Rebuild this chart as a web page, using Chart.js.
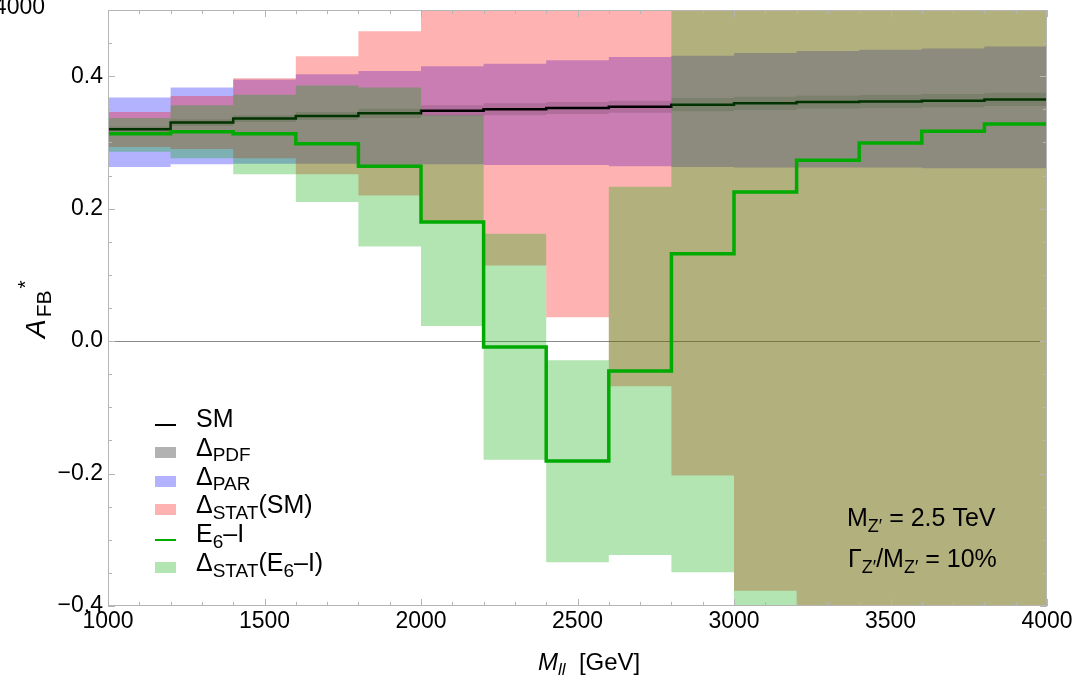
<!DOCTYPE html>
<html>
<head>
<meta charset="utf-8">
<script src="https://cdn.jsdelivr.net/npm/chart.js@4.4.1/dist/chart.umd.min.js"></script>
<style>
    html, body { margin: 0; padding: 0; background: #fff; }
</style>
</head>
<body>
<canvas id="chart" width="1077" height="678"></canvas>
<script>
// dilepton mass bins, GeV
let binEdges = [1000, 1200, 1400, 1600, 1800, 2000, 2200, 2400, 2600, 2800, 3000, 3200, 3400, 3600, 3800, 4000];

// A_FB* per bin
let smAfb = [0.320, 0.330, 0.336, 0.340, 0.344, 0.348, 0.350, 0.352, 0.354, 0.357, 0.359, 0.361, 0.362, 0.363, 0.365];
let e6Afb = [0.313, 0.316, 0.313, 0.298, 0.264, 0.180, -0.009, -0.181, -0.045, 0.132, 0.225, 0.273, 0.299, 0.317, 0.328];

// uncertainty bands (lower / upper edge per bin)
let pdfLo = [0.316, 0.325, 0.331, 0.334, 0.337, 0.340, 0.341, 0.343, 0.345, 0.347, 0.349, 0.351, 0.352, 0.353, 0.355];
let pdfHi = [0.324, 0.335, 0.341, 0.346, 0.351, 0.356, 0.359, 0.361, 0.363, 0.367, 0.369, 0.371, 0.372, 0.373, 0.375];
let parLo = [0.263, 0.267, 0.268, 0.268, 0.263, 0.267, 0.266, 0.266, 0.264, 0.263, 0.262, 0.262, 0.262, 0.261, 0.261];
let parHi = [0.368, 0.383, 0.395, 0.403, 0.408, 0.415, 0.419, 0.424, 0.429, 0.431, 0.435, 0.438, 0.440, 0.442, 0.445];
let statSmLo = [0.293, 0.290, 0.276, 0.252, 0.220, 0.180, 0.114, 0.036, -0.068, -0.203, -0.377, -0.52, -0.66, -0.82, -0.98];
let statSmHi = [0.346, 0.370, 0.397, 0.430, 0.468, 0.516, 0.586, 0.668, 0.776, 0.917, 1.095, 1.24, 1.38, 1.54, 1.71];
let statE6Lo = [0.286, 0.276, 0.252, 0.210, 0.143, 0.023, -0.179, -0.334, -0.323, -0.349, -0.42, -0.55, -0.70, -0.85, -1.0];
let statE6Hi = [0.337, 0.356, 0.372, 0.386, 0.383, 0.341, 0.162, -0.029, 0.233, 0.613, 0.87, 1.1, 1.3, 1.5, 1.65];

let xTicks = [1000, 1500, 2000, 2500, 3000, 3500, 4000];
let yTicks = [-0.4, -0.2, 0.0, 0.2, 0.4];

const FONT = "'Liberation Sans', Arial, Helvetica, sans-serif";
const blue = "rgba(0, 0, 255, 0.3)";
const pink = "rgba(255, 0, 0, 0.3)";
const green = "rgba(0, 170, 0, 0.3)";
const grey = "rgba(0, 0, 0, 0.12)";

// histogram-style points: one per left bin edge plus the closing edge
function stepPoints(vals) {
    let pts = vals.map((v, i) => ({ x: binEdges[i], y: v }));
    pts.push({ x: binEdges[binEdges.length - 1], y: vals[vals.length - 1] });
    return pts;
}

function stepSet(label, vals, color, width, order) {
    return {
        type: "line",
        label: label,
        data: stepPoints(vals),
        borderColor: color,
        borderWidth: width,
        stepped: true,
        pointRadius: 0,
        fill: false,
        order: order
    };
}

// a band is two invisible stepped edges, the upper one filled down to the lower
function bandSets(label, lo, hi, color, order) {
    return [
        {
            type: "line",
            label: label + " lo",
            data: stepPoints(lo),
            borderWidth: 0,
            borderColor: "rgba(0,0,0,0)",
            stepped: true,
            pointRadius: 0,
            fill: false,
            order: order
        },
        {
            type: "line",
            label: label,
            data: stepPoints(hi),
            borderWidth: 0,
            borderColor: "rgba(0,0,0,0)",
            backgroundColor: color,
            stepped: true,
            pointRadius: 0,
            fill: "-1",
            order: order
        }
    ];
}

// text with sub/superscripts: parts are {t, sub, sup, it}
function drawRich(ctx, parts, x, y, size, ratio) {
    ratio = ratio || 0.7;
    for (const p of parts) {
        let s = (p.sub || p.sup) ? Math.round(size * ratio) : size;
        let dy = p.sub ? size * 0.22 : (p.sup ? -size * 0.45 : 0);
        ctx.font = (p.it ? "italic " : "") + s + "px " + FONT;
        ctx.fillText(p.t, x, y + dy);
        x += ctx.measureText(p.t).width + (p.gap || 0);
    }
    return x;
}

const zeroLine = {
    id: "zeroLine",
    beforeDatasetsDraw(chart) {
        const { ctx, chartArea: a, scales: { y } } = chart;
        let py = Math.round(y.getPixelForValue(0)) + 0.5;
        ctx.save();
        ctx.strokeStyle = "#8a8a8a";
        ctx.lineWidth = 1.2;
        ctx.beginPath();
        ctx.moveTo(a.left, py);
        ctx.lineTo(a.right, py);
        ctx.stroke();
        ctx.restore();
    }
};

const frame = {
    id: "frame",
    afterDatasetsDraw(chart) {
        const { ctx, chartArea: a, scales: { x, y } } = chart;
        ctx.save();
        ctx.strokeStyle = "#b5b5b5";
        ctx.lineWidth = 1;
        ctx.strokeRect(a.left + 0.5, a.top + 0.5, a.right - a.left - 1, a.bottom - a.top - 1);
        ctx.beginPath();
        for (let v = 1000; v <= 4000; v += 100) {
            let len = v % 500 === 0 ? 7 : 4;
            let px = Math.round(x.getPixelForValue(v)) + 0.5;
            ctx.moveTo(px, a.bottom);
            ctx.lineTo(px, a.bottom - len);
            ctx.moveTo(px, a.top);
            ctx.lineTo(px, a.top + len);
        }
        for (let k = -8; k <= 10; k++) {
            let v = k * 0.05;
            let len = k % 4 === 0 ? 7 : 4;
            let py = Math.round(y.getPixelForValue(v)) + 0.5;
            ctx.moveTo(a.left, py);
            ctx.lineTo(a.left + len, py);
            ctx.moveTo(a.right, py);
            ctx.lineTo(a.right - len, py);
        }
        ctx.stroke();
        ctx.restore();
    }
};

const labels = {
    id: "labels",
    afterDraw(chart) {
        const { ctx } = chart;
        ctx.save();
        ctx.fillStyle = "#000";
        ctx.textBaseline = "alphabetic";
        ctx.textAlign = "left";

        // legend
        let rows = [
            { line: "#000000", parts: [{ t: "SM" }] },
            { box: "rgba(0, 0, 0, 0.3)", parts: [{ t: "Δ" }, { t: "PDF", sub: true }] },
            { box: blue, parts: [{ t: "Δ" }, { t: "PAR", sub: true }] },
            { box: pink, parts: [{ t: "Δ" }, { t: "STAT", sub: true }, { t: "(SM)" }] },
            { line: "#00aa00", parts: [{ t: "E" }, { t: "6", sub: true }, { t: "–I" }] },
            { box: green, parts: [{ t: "Δ" }, { t: "STAT", sub: true }, { t: "(E" }, { t: "6", sub: true }, { t: "–I)" }] }
        ];
        let base = 427;
        rows.forEach((r, i) => {
            let by = base + i * 28.8;
            if (r.line) {
                ctx.fillStyle = r.line;
                ctx.fillRect(155, Math.round(by - 3), 21, 2);
            } else {
                ctx.fillStyle = r.box;
                ctx.fillRect(155, Math.round(by - 9), 21, 11);
            }
            ctx.fillStyle = "#000";
            drawRich(ctx, r.parts, 196, by, 25, 0.76);
        });

        // model parameters
        drawRich(ctx, [{ t: "M" }, { t: "Z′", sub: true }, { t: " = 2.5 TeV" }], 847, 526, 25);
        drawRich(ctx, [{ t: "Γ" }, { t: "Z′", sub: true }, { t: "/M" }, { t: "Z′", sub: true }, { t: " = 10%" }], 848, 567, 25);

        // axis titles
        drawRich(ctx, [{ t: "M", it: true }, { t: "ll", it: true, sub: true }, { t: "  [GeV]" }], 538, 670, 24);
        ctx.save();
        ctx.translate(45, 338);
        ctx.rotate(-Math.PI / 2);
        drawRich(ctx, [{ t: "A", it: true, gap: 2 }, { t: "FB", sub: true, gap: 2 }, { t: "*", sup: true }], 0, 0, 28, 0.74);
        ctx.restore();

        // edge of the panel above
        ctx.font = "23px " + FONT;
        ctx.textAlign = "right";
        ctx.fillText("4000", 45, 14);
        ctx.restore();
    }
};

let context = document.getElementById("chart").getContext("2d");

let chart = new Chart(context, {
    type: "line",
    data: {
        datasets: [
            stepSet("E6-I", e6Afb, "#00aa00", 3.5, 0),
            ...bandSets("ΔSTAT(E6-I)", statE6Lo, statE6Hi, green, 1),
            stepSet("SM", smAfb, "#000000", 2.5, 2),
            ...bandSets("ΔPDF", pdfLo, pdfHi, grey, 3),
            ...bandSets("ΔSTAT(SM)", statSmLo, statSmHi, pink, 4),
            ...bandSets("ΔPAR", parLo, parHi, blue, 5)
        ]
    },
    options: {
        responsive: false,
        animation: false,
        devicePixelRatio: 1,
        layout: { padding: { top: 10, right: 30, left: 0, bottom: 0 } },
        plugins: {
            legend: { display: false },
            tooltip: { enabled: false },
            filler: { propagate: false }
        },
        scales: {
            x: {
                type: "linear",
                offset: false,
                min: 1000,
                max: 4000,
                afterFit: s => { s.height = 72; s.paddingLeft = 0; s.paddingRight = 0; },
                afterBuildTicks: s => { s.ticks = xTicks.map(v => ({ value: v })); },
                grid: { display: false, drawTicks: false },
                border: { display: false },
                ticks: {
                    color: "#000",
                    font: { family: FONT, size: 23 },
                    padding: 2,
                    maxRotation: 0,
                    callback: v => String(v)
                }
            },
            y: {
                type: "linear",
                min: -0.4,
                max: 0.5,
                afterFit: s => { s.width = 108; s.paddingTop = 0; s.paddingBottom = 0; },
                afterBuildTicks: s => { s.ticks = yTicks.map(v => ({ value: v })); },
                grid: { display: false, drawTicks: false },
                border: { display: false },
                ticks: {
                    color: "#000",
                    font: { family: FONT, size: 23 },
                    padding: 5,
                    callback: v => Math.abs(v) < 1e-9 ? "0.0" : v.toFixed(1).replace("-", "−")
                }
            }
        }
    },
    plugins: [zeroLine, frame, labels]
});
</script>
</body>
</html>
